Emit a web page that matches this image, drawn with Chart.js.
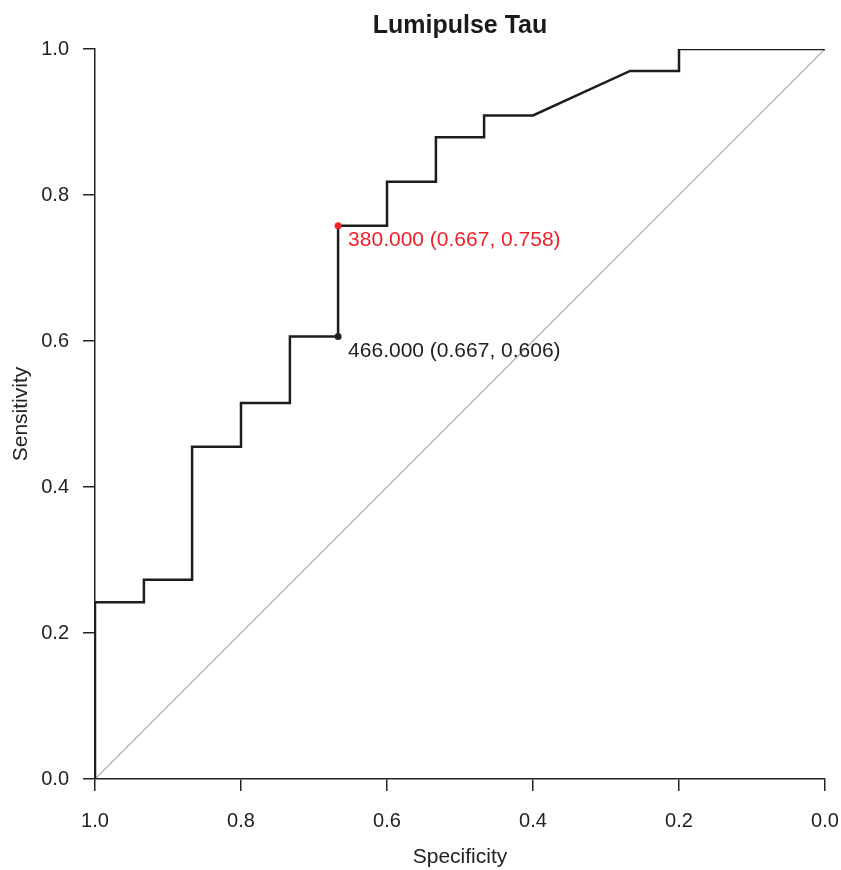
<!DOCTYPE html>
<html>
<head>
<meta charset="utf-8">
<script src="https://cdn.jsdelivr.net/npm/chart.js@4.4.1/dist/chart.umd.min.js"></script>
<style>
  html, body { margin: 0; padding: 0; background: #fff; }
  #wrap { width: 841px; height: 870px; }
</style>
</head>
<body>
<div id="wrap"><canvas id="roc" width="841" height="870"></canvas></div>
<script>
// ROC curve points (specificity, sensitivity)
const specificity = [1, 1, 0.933, 0.933, 0.867, 0.867, 0.8, 0.8, 0.733, 0.733, 0.667, 0.667,
  0.6, 0.6, 0.533, 0.533, 0.467, 0.467, 0.4, 0.267, 0.2, 0.2, 0];
const sensitivity = [0, 0.242, 0.242, 0.273, 0.273, 0.455, 0.455, 0.515, 0.515, 0.606, 0.606, 0.758,
  0.758, 0.818, 0.818, 0.879, 0.879, 0.909, 0.909, 0.970, 0.970, 1, 1];

// highlighted thresholds
const thresholds = [380, 466];
const thrSpec = [0.667, 0.667];
const thrSens = [0.758, 0.606];
const thrColors = ['#ee2228', '#222222'];

const ticks = [1.0, 0.8, 0.6, 0.4, 0.2, 0.0];
const FONT = "'Liberation Sans', Arial, Helvetica, sans-serif";

const rocPoints = specificity.map((s, i) => ({x: s, y: sensitivity[i]}));

// labels beside the threshold points
const thresholdLabels = {
  id: 'thresholdLabels',
  afterDatasetsDraw(chart) {
    const {ctx, scales: {x, y}} = chart;
    ctx.save();
    ctx.font = `21px ${FONT}`;
    ctx.textAlign = 'left';
    ctx.textBaseline = 'middle';
    thresholds.forEach((t, i) => {
      const px = x.getPixelForValue(thrSpec[i]);
      const py = y.getPixelForValue(thrSens[i]);
      ctx.fillStyle = thrColors[i];
      ctx.fillText(`${t.toFixed(3)} (${thrSpec[i].toFixed(3)}, ${thrSens[i].toFixed(3)})`, px + 10, py + 15);
    });
    ctx.restore();
  }
};

new Chart(document.getElementById('roc'), {
  type: 'scatter',
  data: {
    datasets: [
      {
        data: [{x: 1, y: 0}, {x: 0, y: 1}],
        showLine: true,
        borderColor: '#a8a8a8',
        borderWidth: 1.2,
        pointRadius: 0,
        order: 3
      },
      {
        data: rocPoints,
        showLine: true,
        borderColor: '#1c1c1c',
        borderWidth: 2.5,
        pointRadius: 0,
        tension: 0,
        order: 2
      },
      {
        data: thrSpec.map((s, i) => ({x: s, y: thrSens[i]})),
        backgroundColor: thrColors,
        borderColor: thrColors,
        pointRadius: 3.5,
        borderWidth: 0,
        order: 1
      }
    ]
  },
  options: {
    responsive: false,
    animation: false,
    layout: { padding: { right: 16, left: 0, top: 0, bottom: 0 } },
    plugins: {
      legend: { display: false },
      tooltip: { enabled: false },
      title: {
        display: true,
        text: 'Lumipulse Tau',
        fullSize: false,
        color: '#1a1a1a',
        font: { family: FONT, size: 25, weight: 'bold' },
        padding: { top: 11, bottom: 8 }
      }
    },
    scales: {
      x: {
        type: 'linear',
        reverse: true,
        min: 0,
        max: 1,
        afterFit: (s) => { s.height = 91; s.paddingLeft = 0; s.paddingRight = 0; },
        afterBuildTicks: (s) => { s.ticks = ticks.map(v => ({value: v})); },
        grid: { drawOnChartArea: false, drawTicks: true, tickLength: 12, color: '#222', lineWidth: 1.5 },
        border: { display: true, color: '#222', width: 1.5 },
        ticks: {
          color: '#222',
          padding: 18,
          maxRotation: 0,
          font: { family: FONT, size: 20 },
          callback: (v) => v.toFixed(1)
        },
        title: {
          display: true,
          text: 'Specificity',
          color: '#222',
          font: { family: FONT, size: 21 },
          padding: { top: 0, bottom: 0 }
        }
      },
      y: {
        type: 'linear',
        min: 0,
        max: 1,
        afterFit: (s) => { s.width = 95; s.paddingTop = 0; s.paddingBottom = 0; },
        afterBuildTicks: (s) => { s.ticks = ticks.map(v => ({value: v})); },
        grid: { drawOnChartArea: false, drawTicks: true, tickLength: 12, color: '#222', lineWidth: 1.5 },
        border: { display: true, color: '#222', width: 1.5 },
        ticks: {
          color: '#222',
          padding: 14,
          font: { family: FONT, size: 20 },
          callback: (v) => v.toFixed(1)
        },
        title: {
          display: true,
          text: 'Sensitivity',
          color: '#222',
          font: { family: FONT, size: 21 },
          padding: { top: 9, bottom: 0 }
        }
      }
    }
  },
  plugins: [thresholdLabels]
});
</script>
</body>
</html>
